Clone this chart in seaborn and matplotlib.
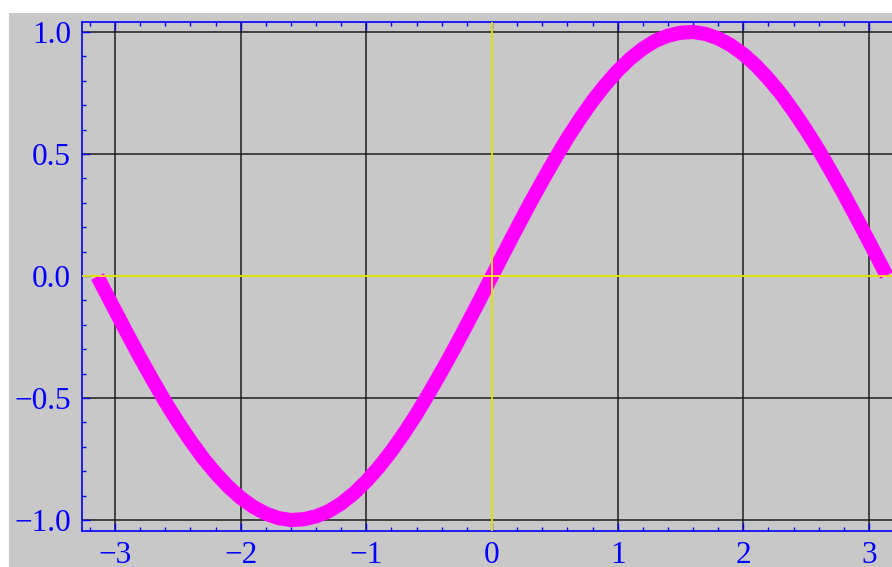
import matplotlib
matplotlib.use("Agg")
import matplotlib.pyplot as plt
from matplotlib.patches import Rectangle
from matplotlib.ticker import MultipleLocator, FixedLocator, FixedFormatter
import seaborn as sns
import pandas as pd

# Sampled curve points (x, y)
x_vals = [-3.14, -3.1, -3.0, -2.9, -2.8, -2.7, -2.6, -2.5, -2.4, -2.3, -2.2,
          -2.1, -2.0, -1.9, -1.8, -1.7, -1.6, -1.5, -1.4, -1.3, -1.2, -1.1,
          -1.0, -0.9, -0.8, -0.7, -0.6, -0.5, -0.4, -0.3, -0.2, -0.1, 0.0,
          0.1, 0.2, 0.3, 0.4, 0.5, 0.6, 0.7, 0.8, 0.9, 1.0, 1.1,
          1.2, 1.3, 1.4, 1.5, 1.6, 1.7, 1.8, 1.9, 2.0, 2.1, 2.2,
          2.3, 2.4, 2.5, 2.6, 2.7, 2.8, 2.9, 3.0, 3.1, 3.14]
y_vals = [-0.002, -0.042, -0.141, -0.239, -0.335, -0.427, -0.516, -0.598, -0.675, -0.746, -0.808,
          -0.863, -0.909, -0.946, -0.974, -0.992, -1.000, -0.997, -0.985, -0.964, -0.932, -0.891,
          -0.841, -0.783, -0.717, -0.644, -0.565, -0.479, -0.389, -0.296, -0.199, -0.100, 0.000,
          0.100, 0.199, 0.296, 0.389, 0.479, 0.565, 0.644, 0.717, 0.783, 0.841, 0.891,
          0.932, 0.964, 0.985, 0.997, 1.000, 0.992, 0.974, 0.946, 0.909, 0.863, 0.808,
          0.746, 0.675, 0.598, 0.516, 0.427, 0.335, 0.239, 0.141, 0.042, 0.002]

x_ticks = [-3, -2, -1, 0, 1, 2, 3]
x_tick_labels = ["\u22123", "\u22122", "\u22121", "0", "1", "2", "3"]
y_ticks = [-1.0, -0.5, 0.0, 0.5, 1.0]
y_tick_labels = ["\u22121.0", "\u22120.5", "0.0", "0.5", "1.0"]

df = pd.DataFrame({"x": x_vals, "y": y_vals})

sns.set_style("white")
plt.rcParams["font.family"] = ["Liberation Serif", "DejaVu Serif"]

BG = "#c8c8c8"
BLUE = "#0000ff"

fig = plt.figure(figsize=(8.92, 5.67), dpi=100)
fig.patch.set_facecolor("white")
fig.patches.append(Rectangle((9 / 892, 0), 1 - 9 / 892, 1 - 13 / 567,
                             transform=fig.transFigure, facecolor=BG,
                             edgecolor="none", zorder=-10))

ax = fig.add_axes([82 / 892, 1 - 531 / 567, 1 - 82 / 892, (531 - 22) / 567])
ax.set_facecolor(BG)

sns.lineplot(data=df, x="x", y="y", color="#ff00ff", linewidth=10.2,
             solid_capstyle="butt", solid_joinstyle="round", zorder=3, ax=ax)

ax.set_xlim(-3.263, 3.183)
ax.set_ylim(-1.045, 1.041)

# grid lines at the major ticks, yellow axes through the origin
ax.grid(True, which="major", color="#1e1e1e", linewidth=1.1)
ax.set_axisbelow(True)
ax.axhline(0, color="#ffff00", linewidth=1.2, zorder=4)
ax.axvline(0, color="#ffff00", linewidth=1.2, zorder=4)

ax.xaxis.set_major_locator(FixedLocator(x_ticks))
ax.xaxis.set_major_formatter(FixedFormatter(x_tick_labels))
ax.yaxis.set_major_locator(FixedLocator(y_ticks))
ax.yaxis.set_major_formatter(FixedFormatter(y_tick_labels))
ax.xaxis.set_minor_locator(MultipleLocator(0.2))
ax.yaxis.set_minor_locator(MultipleLocator(0.1))

for side in ("left", "bottom", "top"):
    ax.spines[side].set_visible(True)
    ax.spines[side].set_color(BLUE)
    ax.spines[side].set_linewidth(1.2)
ax.spines["right"].set_visible(False)

ax.tick_params(which="both", direction="in", color=BLUE, labelcolor=BLUE,
               top=True, bottom=True, left=True, right=False,
               labeltop=False, labelright=False)
ax.tick_params(which="major", length=5.5, width=1.0, labelsize=22.5)
ax.tick_params(which="minor", length=3.2, width=1.0)
ax.tick_params(axis="y", which="major", pad=8)
ax.tick_params(axis="x", which="major", pad=7)

ax.set_xlabel("")
ax.set_ylabel("")

fig.savefig("out.png", dpi=100, facecolor="white")
